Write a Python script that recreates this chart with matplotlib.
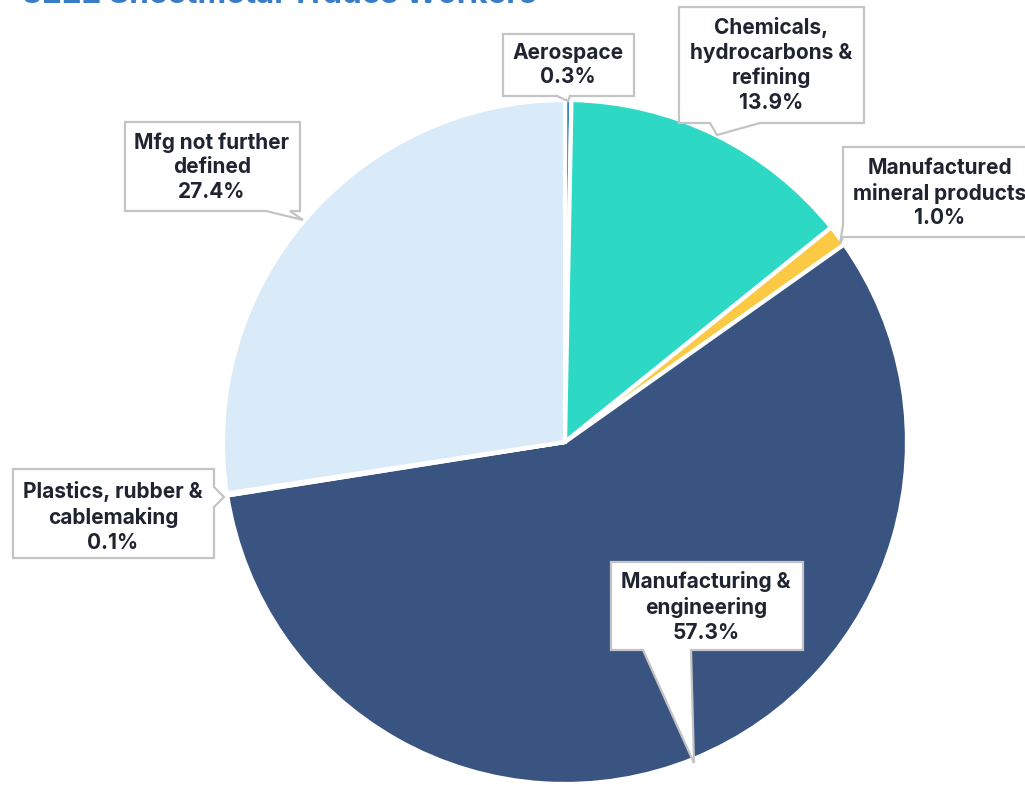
import matplotlib
matplotlib.use("Agg")
import matplotlib.pyplot as plt
from matplotlib.patches import Polygon

# --- data ---------------------------------------------------------------
title = "3222 Sheetmetal Trades Workers"
categories = [
    "Aerospace",
    "Chemicals,\nhydrocarbons &\nrefining",
    "Manufactured\nmineral products",
    "Manufacturing &\nengineering",
    "Plastics, rubber &\ncablemaking",
    "Mfg not further\ndefined",
]
shares = [0.3, 13.9, 1.0, 57.3, 0.1, 27.4]
colors = ["#3d85c6", "#2dd9c5", "#fbc943", "#3a5482", "#c9c9c9", "#d9eaf8"]

W, H = 1025, 785

fig = plt.figure(figsize=(W / 100, H / 100), dpi=100)
ax = fig.add_axes([0, 0, 1, 1])
ax.axis("off")


def py(y):
    """pixel row (top-down) -> data y (bottom-up)"""
    return H - y


center = (565, py(442))
radius = 342

ax.pie(shares, colors=colors, startangle=90, counterclock=False,
       center=center, radius=radius,
       wedgeprops=dict(edgecolor="white", linewidth=3))
ax.set_xlim(0, W)
ax.set_ylim(0, H)
ax.set_aspect("equal")

# --- callouts: box (x0, y0, x1, y1) in pixel rows, pointer outline ------
callouts = [
    dict(box=(503, 34, 634, 96),
         ptr=("bottom", [(570, 96), (568, 101), (557, 96)]),
         text=(568, 65)),
    dict(box=(679, 7, 864, 123),
         ptr=("bottom", [(760, 123), (717, 135), (710, 123)]),
         text=(771, 65)),
    dict(box=(843, 147, 1040, 237),
         ptr=("left", [(843, 225), (840, 244), (843, 237)]),
         text=(940, 193)),
    dict(box=(611, 562, 803, 650),
         ptr=("bottom", [(691, 650), (694, 763), (643, 650)]),
         text=(706, 607)),
    dict(box=(13, 469, 214, 558),
         ptr=("right", [(214, 487), (224, 497), (214, 507)]),
         text=(113, 517)),
    dict(box=(125, 122, 300, 211),
         ptr=("bottom", [(290, 211), (303, 220), (266, 211)]),
         text=(212, 167)),
]


def outline(box, ptr):
    x0, y0, x1, y1 = box
    side, pts = ptr
    if side == "bottom":
        path = [(x0, y0), (x1, y0), (x1, y1)] + pts + [(x0, y1)]
    elif side == "right":
        path = [(x0, y0), (x1, y0)] + pts + [(x1, y1), (x0, y1)]
    else:  # left side, pointer near the lower corner
        path = [(x0, y0), (x1, y0), (x1, y1), pts[2], pts[1], pts[0]]
    return [(x, py(y)) for x, y in path]


for cat, val, co in zip(categories, shares, callouts):
    poly = Polygon(outline(co["box"], co["ptr"]), closed=True,
                   facecolor="white", edgecolor="#c4c4c4", linewidth=1.6,
                   zorder=5, joinstyle="miter")
    ax.add_patch(poly)
    tx, ty = co["text"]
    ax.text(tx, py(ty), f"{cat}\n{val:.1f}%", ha="center", va="center",
            fontsize=15, fontweight="bold", family=["Inter", "DejaVu Sans"],
            color="#1f2430", linespacing=1.28, zorder=6)

ax.text(22, py(-5), title, ha="left", va="center", fontsize=22.5,
        fontweight="bold", family=["Inter", "DejaVu Sans"], color="#3a7cc6")

fig.savefig("out.png", dpi=100)
